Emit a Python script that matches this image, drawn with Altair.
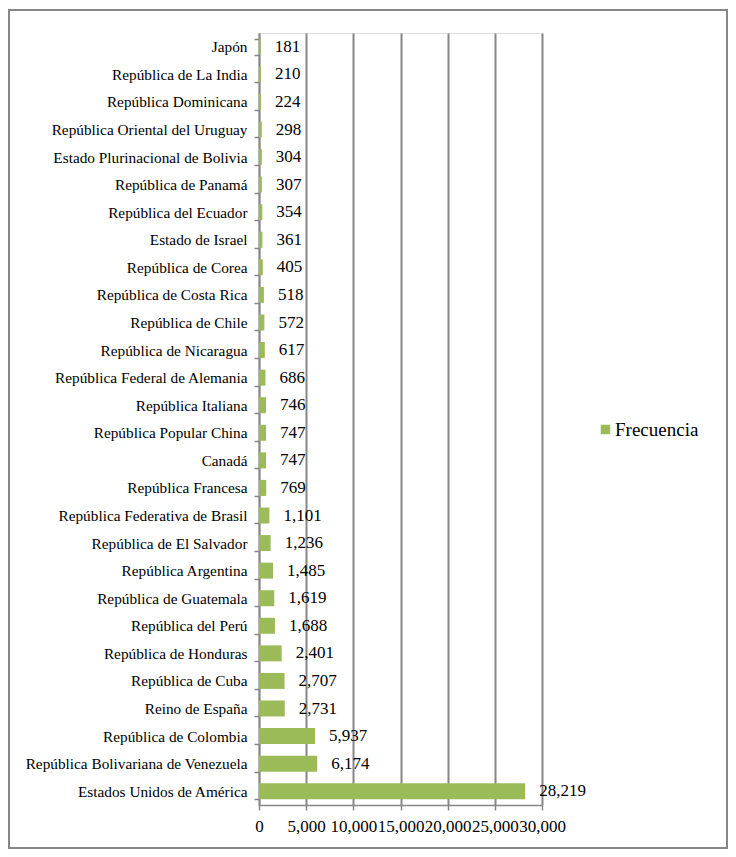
import altair as alt
import pandas as pd

paises = [
    "Japón", "República de La India", "República Dominicana",
    "República Oriental del Uruguay", "Estado Plurinacional de Bolivia",
    "República de Panamá", "República del Ecuador", "Estado de Israel",
    "República de Corea", "República de Costa Rica", "República de Chile",
    "República de Nicaragua", "República Federal de Alemania",
    "República Italiana", "República Popular China", "Canadá",
    "República Francesa", "República Federativa de Brasil",
    "República de El Salvador", "República Argentina",
    "República de Guatemala", "República del Perú", "República de Honduras",
    "República de Cuba", "Reino de España", "República de Colombia",
    "República Bolivariana de Venezuela", "Estados Unidos de América",
]
frecuencia = [
    181, 210, 224, 298, 304, 307, 354, 361, 405, 518, 572, 617, 686, 746,
    747, 747, 769, 1101, 1236, 1485, 1619, 1688, 2401, 2707, 2731, 5937,
    6174, 28219,
]
serie = ["Frecuencia"] * len(paises)
x_ticks = [0, 5000, 10000, 15000, 20000, 25000, 30000]

df = pd.DataFrame({"pais": paises, "valor": frecuencia, "serie": serie})

FONT = "Liberation Serif"
GREEN = "#9bbb59"
GRAY = "#868686"

y_enc = alt.Y(
    "pais:N",
    sort=paises,
    title=None,
    scale=alt.Scale(paddingInner=0.42, paddingOuter=0.21),
    axis=alt.Axis(
        labelFont=FONT, labelFontSize=15.3, labelColor="black",
        labelLimit=0,
        tickBand="extent", tickSize=5, tickColor=GRAY, domainColor=GRAY,
        domainWidth=1.5, tickWidth=1.5, labelPadding=7, grid=False,
    ),
)
x_enc = alt.X(
    "valor:Q",
    title=None,
    scale=alt.Scale(domain=[0, 30000], nice=False),
    axis=alt.Axis(
        values=x_ticks, format=",d", labelFont=FONT, labelFontSize=17,
        labelColor="black", labelOverlap=False, labelFlush=False,
        tickSize=5, tickColor=GRAY, tickWidth=1.5, domainColor=GRAY,
        domainWidth=1.5, grid=True, gridColor=GRAY, gridWidth=2,
        labelPadding=8,
    ),
)

bars = alt.Chart(df).mark_bar(color=GREEN).encode(
    x=x_enc,
    y=y_enc,
    color=alt.Color(
        "serie:N",
        scale=alt.Scale(domain=["Frecuencia"], range=[GREEN]),
        legend=alt.Legend(
            title=None, orient="none", legendX=337, legendY=387,
            labelFont=FONT, labelFontSize=19, labelColor="black",
            symbolType="square", symbolSize=90, symbolStrokeWidth=0,
            labelOffset=0,
        ),
    ),
)

labels = alt.Chart(df).mark_text(
    align="left", baseline="middle", dx=14, font=FONT, fontSize=17,
    color="black",
).encode(
    x="valor:Q",
    y=alt.Y("pais:N", sort=paises),
    text=alt.Text("valor:Q", format=",d"),
)

frame = alt.Chart(df).mark_rect(
    fill=None, stroke=GRAY, strokeWidth=2
).encode(
    x=alt.value(-250), x2=alt.value(468),
    y=alt.value(-23), y2=alt.value(815),
)

chart = alt.layer(frame, bars, labels).properties(
    width=283,
    height=772,
    autosize=alt.AutoSizeParams(type="none"),
    padding={"left": 251, "top": 25, "right": 186, "bottom": 46},
).configure_view(stroke=None).configure(background="white")

chart.save("out.html", embed_options={"renderer": "svg", "actions": False})
